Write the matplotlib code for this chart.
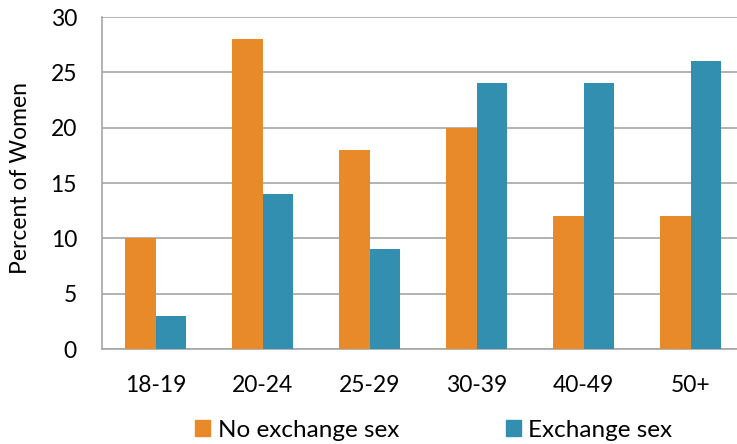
import matplotlib.pyplot as plt
from matplotlib.patches import Patch
import numpy as np

plt.rcParams['font.family'] = ['Lato', 'DejaVu Sans']

age_groups = ['18-19', '20-24', '25-29', '30-39', '40-49', '50+']
no_exchange = [10, 28, 18, 20, 12, 12]
exchange = [3, 14, 9, 24, 24, 26]

orange = '#E8892A'
blue = '#338FB0'
grid_gray = '#A6A6A6'

fig = plt.figure(figsize=(7.37, 4.44), dpi=100)
ax = fig.add_axes([102 / 737, 1 - 349 / 444, 642 / 737, 332 / 444])

x = np.arange(len(age_groups))
w = 0.285
ax.bar(x - w / 2, no_exchange, w, color=orange, zorder=3)
ax.bar(x + w / 2, exchange, w, color=blue, zorder=3)

ax.set_xlim(-0.5, len(age_groups) - 0.5)
ax.set_ylim(0, 30)
ax.set_yticks(range(0, 31, 5))
ax.set_xticks(x)
ax.set_xticklabels(age_groups)
ax.tick_params(axis='both', length=0, labelsize=16.5, colors='black')
ax.tick_params(axis='x', pad=18.5)
ax.tick_params(axis='y', pad=18)

ax.grid(axis='y', color=grid_gray, linewidth=1.2, zorder=0)
for side in ['left', 'bottom']:
    ax.spines[side].set_color(grid_gray)
    ax.spines[side].set_linewidth(1.2)
for side in ['top', 'right']:
    ax.spines[side].set_visible(False)

ax.set_ylabel('Percent of Women', fontsize=16.5)
ax.yaxis.set_label_coords(-0.111, 0.515)

handles = [Patch(color=orange, label='No exchange sex'),
           Patch(color=blue, label='Exchange sex')]
fig.legend(handles=handles, loc='center', bbox_to_anchor=(434 / 737, 1 - 430 / 444),
           ncol=2, frameon=False, fontsize=17.5, handlelength=0.62, handleheight=0.62,
           handletextpad=0.3, columnspacing=4.4)

fig.savefig('out.png', dpi=100)
